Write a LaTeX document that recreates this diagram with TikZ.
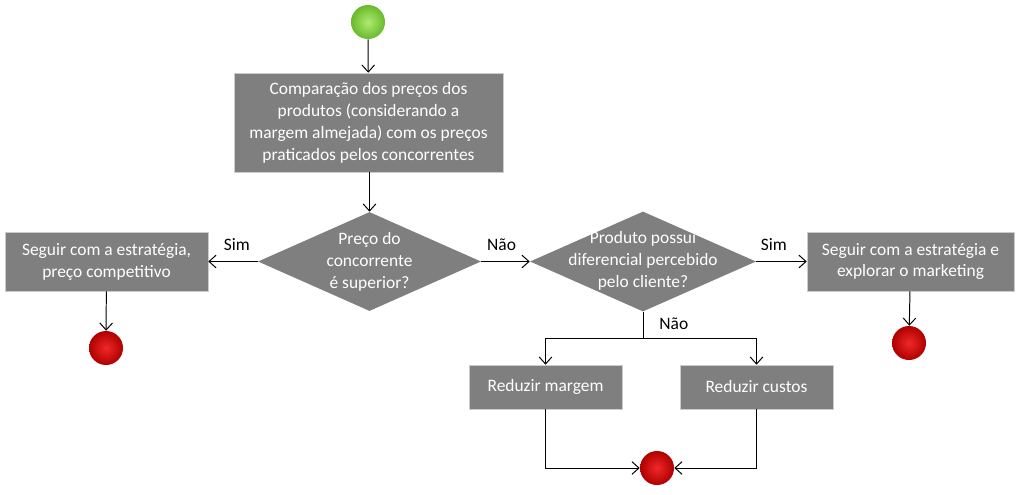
\documentclass[tikz,border=0pt]{standalone}
\usepackage{fontspec}
\setmainfont{Carlito}
\usetikzlibrary{shapes.geometric,arrows.meta}
\definecolor{boxgray}{HTML}{7F7F7F}
\definecolor{greenin}{RGB}{175,235,110}
\definecolor{greenout}{RGB}{105,185,45}
\definecolor{redin}{RGB}{240,40,40}
\definecolor{redout}{RGB}{175,0,0}
\begin{document}
\begin{tikzpicture}[x=0.025cm,y=-0.025cm,
  every node/.style={font=\fontsize{12.4}{15.6}\selectfont},
  procbox/.style={draw=gray!40, fill=boxgray, text=white, align=center, inner sep=0pt},
  decision/.style={diamond, fill=boxgray, text=white, align=center, inner sep=0pt},
  startc/.style={circle, minimum size=34*0.025cm, inner sep=0pt, inner color=greenin, outer color=greenout},
  endc/.style={circle, minimum size=34*0.025cm, inner sep=0pt, inner color=redin, outer color=redout},
  conn/.style={-{Straight Barb[length=5pt,width=9pt]}, line width=0.7pt, black},
  lbl/.style={text=black}]
\useasboundingbox (0,0) rectangle (1024,494);
\node[startc] (start) at (368,22) {};
\node[procbox, minimum width=269*0.025cm, minimum height=99*0.025cm] (cmp) at (368.5,122.5)
  {Comparação dos preços dos\\produtos (considerando a\\margem almejada) com os preços\\praticados pelos concorrentes};
\node[decision, minimum width=223*0.025cm, minimum height=99*0.025cm] (d1) at (369.5,261.5) {};
\node[text=white, align=center] at (369.5,262) {Preço do\\concorrente\\é superior?};
\node[procbox, minimum width=203*0.025cm, minimum height=59*0.025cm] (left) at (106.5,261.5)
  {Seguir com a estratégia,\\preço competitivo};
\node[endc] (e1) at (106,348) {};
\node[decision, minimum width=226*0.025cm, minimum height=100*0.025cm] (d2) at (643,261.5) {};
\node[text=white, align=center] at (643,261) {Produto possui\\diferencial percebido\\pelo cliente?};
\node[procbox, minimum width=207*0.025cm, minimum height=59*0.025cm] (right) at (910.5,261.5)
  {Seguir com a estratégia e\\explorar o marketing};
\node[endc] (e2) at (909,343) {};
\node[procbox, minimum width=153*0.025cm, minimum height=44*0.025cm] (rm) at (545.5,387)
  {Reduzir margem};
\node[procbox, minimum width=153*0.025cm, minimum height=44*0.025cm] (rc) at (756.5,387)
  {Reduzir custos};
\node[endc] (e3) at (657,468) {};
\coordinate (split) at (643,338);

\draw[conn] (start) -- (cmp);
\draw[conn] (cmp.south -| d1.north) -- (d1.north);
\draw[conn] (d1.west) -- node[lbl, above, pos=0.42, yshift=4pt] {Sim} (left.east);
\draw[conn] (d1.east) -- node[lbl, above, pos=0.42, yshift=4pt] {Não} (d2.west);
\draw[conn] (d2.east) -- node[lbl, above, pos=0.35, yshift=4pt] {Sim} (right.west);
\draw[conn] (left) -- (e1);
\draw[conn] (right) -- (e2);
\draw[line width=0.7pt] (d2.south) -- node[lbl, right, pos=0.45, xshift=8pt] {Não} (split);
\draw[conn] (split) -| (rm.north);
\draw[conn] (split) -| (rc.north);
\draw[conn] (rm.south) |- (e3.west);
\draw[conn] (rc.south) |- (e3.east);
\end{tikzpicture}
\end{document}
